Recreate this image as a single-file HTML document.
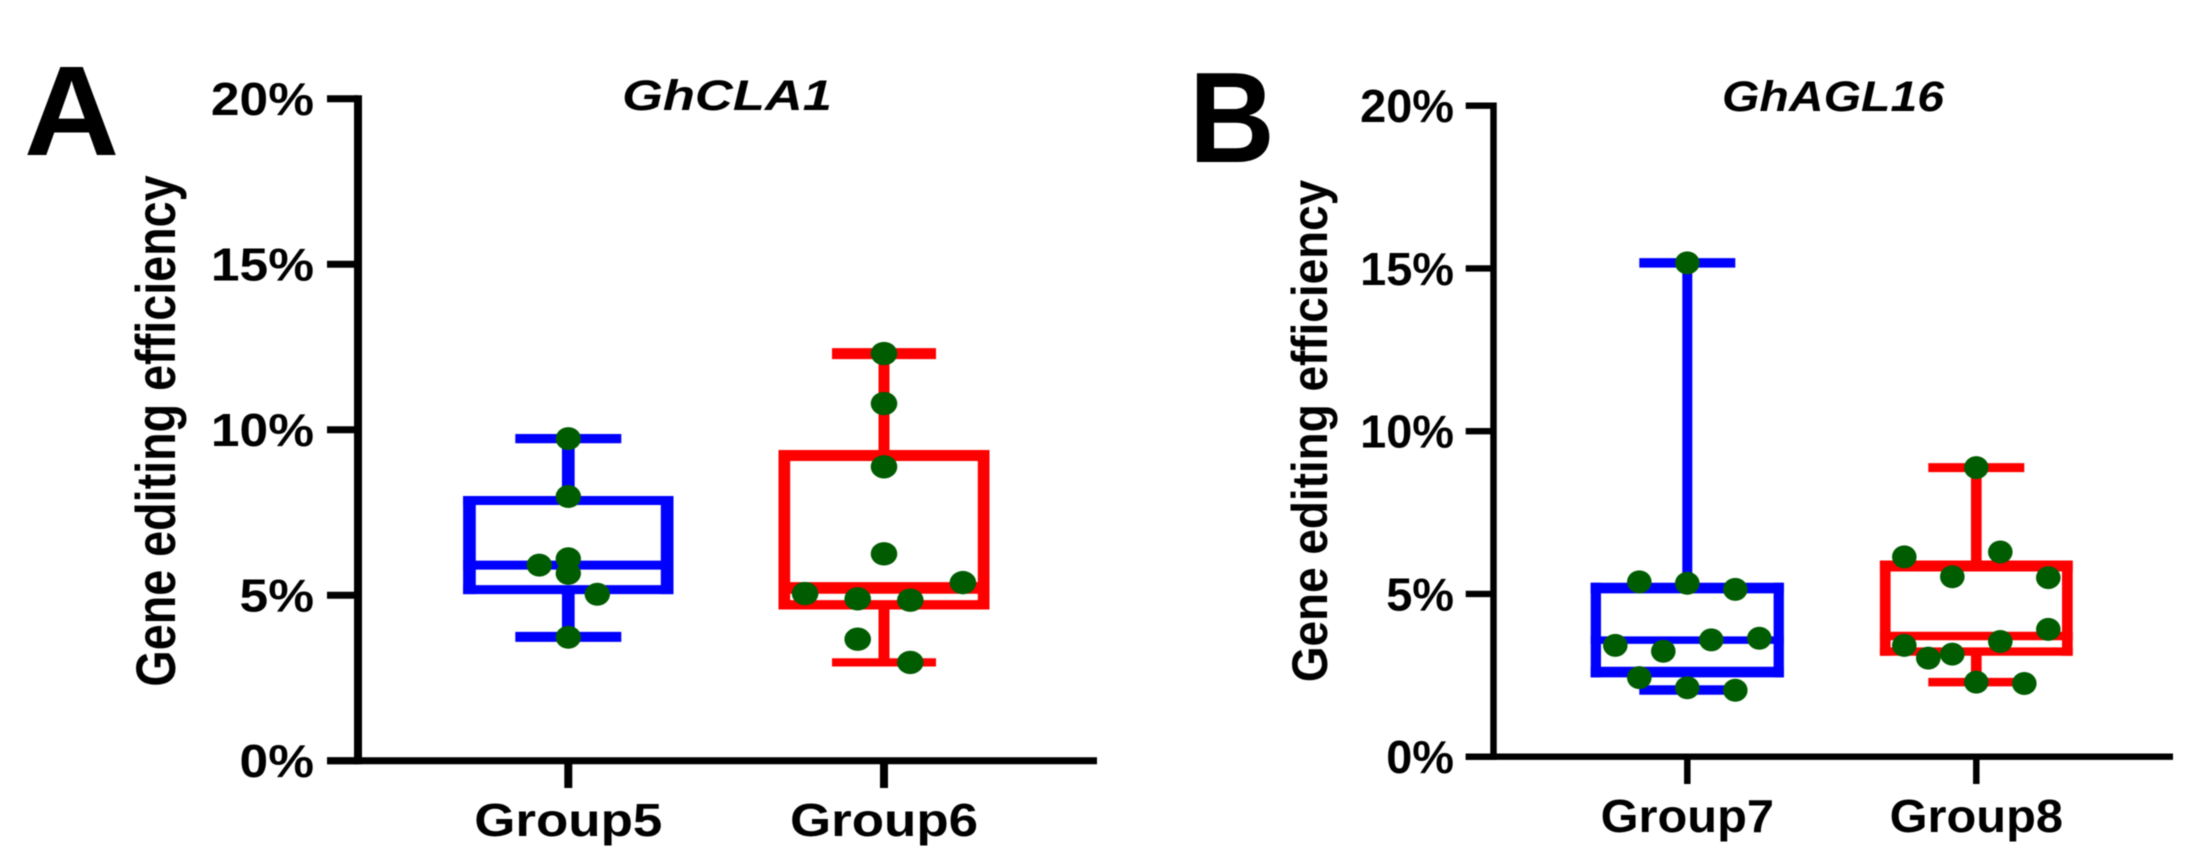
<!DOCTYPE html>
<html lang="en">
<head>
<meta charset="utf-8">
<title>Gene editing efficiency box plots</title>
<style>
html,body{margin:0;padding:0;background:#fff;}
#chart{display:block;width:2191px;height:864px;filter:blur(0.6px);}
text{font-family:"Liberation Sans",Arial,sans-serif;font-weight:700;fill:#000;}
</style>
</head>
<body>
<svg id="chart" xmlns="http://www.w3.org/2000/svg" width="2191" height="864" viewBox="0 0 2191 864"></svg>
<script>
// ---- chart data ----
const yTickValues = [0, 5, 10, 15, 20];
const yTickLabels = ['0%', '5%', '10%', '15%', '20%'];
const panelACategories = ['Group5', 'Group6'];
const panelBCategories = ['Group7', 'Group8'];

// box summaries: [low whisker, Q1, median, Q3, high whisker]
const group5Box = [3.74, 5.17, 5.91, 7.86, 9.73];
const group6Box = [2.97, 4.71, 5.22, 9.22, 12.30];
const group7Box = [2.05, 2.60, 3.58, 5.18, 15.17];
const group8Box = [2.29, 3.23, 3.71, 5.86, 8.88];

// individual points and their swarm slots
const group5Dots = [9.73, 7.98, 6.10, 5.66, 5.91, 5.03, 3.73];
const group5Slots = [0, 0, 0, 0, -1, 1, 0];
const group6Dots = [12.30, 10.79, 8.88, 6.25, 5.05, 4.89, 4.85, 5.38, 3.67, 2.97];
const group6Slots = [0, 0, 0, 0, -3, -1, 1, 3, -1, 1];
const group7Dots = [15.17, 5.37, 5.33, 5.14, 3.42, 3.24, 3.59, 3.64, 2.43, 2.12, 2.04];
const group7Slots = [0, -2, 0, 2, -3, -1, 1, 3, -2, 0, 2];
const group8Dots = [8.88, 6.14, 6.29, 5.53, 5.50, 3.91, 3.42, 3.54, 3.03, 3.15, 2.29, 2.25];
const group8Slots = [0, -3, 1, -1, 3, 3, -3, 1, -2, -1, 0, 2];

const NS = 'http://www.w3.org/2000/svg';
const svg = document.getElementById('chart');

function make(parent, tag) {
  const el = document.createElementNS(NS, tag);
  parent.appendChild(el);
  return el;
}
function setLine(el, x1, y1, x2, y2, color, width) {
  el.setAttribute('x1', x1);
  el.setAttribute('y1', y1);
  el.setAttribute('x2', x2);
  el.setAttribute('y2', y2);
  el.setAttribute('stroke', color);
  el.setAttribute('stroke-width', width);
}
function setText(el, str, transform, size, anchor, italic) {
  el.textContent = str;
  el.setAttribute('transform', transform);
  el.setAttribute('font-size', size);
  el.setAttribute('text-anchor', anchor);
  if (italic) el.setAttribute('font-style', 'italic');
}

function drawPanel(p, categories, boxes, dots, slots, styles) {
  const yScale = function (v) { return p.y0 - v * p.yUnit; };
  const xScale = function (i) { return p.x0 + i * p.band; };

  const panel = make(svg, 'g');
  
  

  const letter = make(panel, 'text');
  setText(letter, p.letter, 'translate(' + p.letterX + ',' + p.letterY + ') scale(' + p.letterSx + ',1)', p.letterSize, 'start', false);
  
  

  const title = make(panel, 'text');
  setText(title, p.title, 'translate(' + p.titleX + ',' + p.titleY + ') scale(' + p.titleSx + ',1)', 43, 'middle', true);
  
  

  const yTitle = make(panel, 'text');
  setText(yTitle, 'Gene editing efficiency', 'translate(' + p.yTitleX + ',' + p.yTitleY + ') scale(' + p.yTitleSx + ',1) rotate(-90)', p.yTitleSize, 'middle', false);
  
  

  const yAxis = make(panel, 'line');
  setLine(yAxis, p.axisX, yScale(yTickValues[yTickValues.length - 1]) - p.axisH / 2, p.axisX, p.y0 + p.axisH / 2, '#000', p.axisV);
  
  

  const xAxis = make(panel, 'line');
  setLine(xAxis, p.tickLeft, p.y0, p.axisEnd, p.y0, '#000', p.axisH);
  
  

  yTickValues.forEach(function (v, i) {
    const tick = make(panel, 'line');
    setLine(tick, p.tickLeft, yScale(v), p.axisX, yScale(v), '#000', p.axisH);
    
    

    const label = make(panel, 'text');
    setText(label, yTickLabels[i], 'translate(' + p.labelRight + ',' + (yScale(v) + 16.5) + ') scale(' + p.labelSx + ',1)', 46, 'end', false);
    
    
  });

  categories.forEach(function (name, i) {
    const cx = xScale(i);
    const s = styles[i];
    const box = boxes[i];

    const tick = make(panel, 'line');
    setLine(tick, cx, p.y0, cx, p.tickBottom, '#000', p.xTickW);
    
    

    const label = make(panel, 'text');
    setText(label, name, 'translate(' + cx + ',' + p.groupY + ') scale(' + p.groupSx + ',1)', 46, 'middle', false);
    
    

    const group = make(panel, 'g');
    
    

    const upperStem = make(group, 'line');
    setLine(upperStem, cx, yScale(box[4]), cx, yScale(box[3]), s.color, s.stem);
    
    

    const lowerStem = make(group, 'line');
    setLine(lowerStem, cx, yScale(box[1]), cx, yScale(box[0]), s.color, s.stem);
    
    

    const upperCap = make(group, 'line');
    setLine(upperCap, cx - s.capHalf, yScale(box[4]), cx + s.capHalf, yScale(box[4]), s.color, s.capTop);
    
    

    const lowerCap = make(group, 'line');
    setLine(lowerCap, cx - s.capHalf, yScale(box[0]), cx + s.capHalf, yScale(box[0]), s.color, s.capBottom);
    
    

    const boxTopY = yScale(box[3]);
    const boxBottomY = yScale(box[1]);

    const boxTop = make(group, 'line');
    setLine(boxTop, cx - s.half, boxTopY, cx + s.half, boxTopY, s.color, s.boxTopW);
    
    

    const boxBottom = make(group, 'line');
    setLine(boxBottom, cx - s.half, boxBottomY, cx + s.half, boxBottomY, s.color, s.boxBottomW);
    
    

    const boxLeft = make(group, 'line');
    setLine(boxLeft, cx - s.half + s.side / 2, boxTopY - s.boxTopW / 2, cx - s.half + s.side / 2, boxBottomY + s.boxBottomW / 2, s.color, s.side);
    
    

    const boxRight = make(group, 'line');
    setLine(boxRight, cx + s.half - s.side / 2, boxTopY - s.boxTopW / 2, cx + s.half - s.side / 2, boxBottomY + s.boxBottomW / 2, s.color, s.side);
    
    

    const median = make(group, 'line');
    setLine(median, cx - s.half, yScale(box[2]), cx + s.half, yScale(box[2]), s.color, s.medianW);
    
    

    dots[i].forEach(function (v, j) {
      const dot = make(group, 'ellipse');
      dot.setAttribute('cx', cx + slots[i][j] * s.step);
      dot.setAttribute('cy', yScale(v));
      dot.setAttribute('rx', s.rx);
      dot.setAttribute('ry', s.ry);
      dot.setAttribute('fill', '#005c00');
      
      
    });
  });
}

drawPanel({
  name: 'panel-a', letter: 'A', letterX: 24, letterY: 155, letterSize: 128, letterSx: 1.03,
  title: 'GhCLA1', titleX: 727, titleY: 110, titleSx: 1.22,
  yTitleX: 175, yTitleY: 431, yTitleSx: 1.2, yTitleSize: 46.7,
  x0: 568.3, band: 315.7, y0: 760.7, yUnit: 33.1,
  axisX: 358, axisV: 8, axisH: 7, tickLeft: 327, axisEnd: 1097,
  labelRight: 314, labelSx: 1.12, tickBottom: 788, xTickW: 8, groupY: 836, groupSx: 1.15
}, panelACategories, [group5Box, group6Box], [group5Dots, group6Dots], [group5Slots, group6Slots], [
  { color: '#0000ff', half: 105.2, side: 12.7, boxTopW: 9, boxBottomW: 9, stem: 12.7, capHalf: 53, capTop: 9.3, capBottom: 10, medianW: 9, step: 29, rx: 12.7, ry: 11.5 },
  { color: '#ff0000', half: 105.5, side: 11.7, boxTopW: 11, boxBottomW: 9.3, stem: 11, capHalf: 52, capTop: 11, capBottom: 8.3, medianW: 11.7, step: 26.3, rx: 13.3, ry: 11.7 }
]);

drawPanel({
  name: 'panel-b', letter: 'B', letterX: 1189, letterY: 162, letterSize: 129, letterSx: 0.92,
  title: 'GhAGL16', titleX: 1833, titleY: 111, titleSx: 1.12,
  yTitleX: 1327, yTitleY: 431, yTitleSx: 1.1, yTitleSize: 45.9,
  x0: 1687.3, band: 289, y0: 756.7, yUnit: 32.55,
  axisX: 1493.5, axisV: 6.5, axisH: 6.3, tickLeft: 1465.7, axisEnd: 2173,
  labelRight: 1454, labelSx: 1.02, tickBottom: 784, xTickW: 6.5, groupY: 832, groupSx: 1.06
}, panelBCategories, [group7Box, group8Box], [group7Dots, group8Dots], [group7Slots, group8Slots], [
  { color: '#0000ff', half: 96.6, side: 10.3, boxTopW: 10.6, boxBottomW: 10.6, stem: 10, capHalf: 48, capTop: 9.5, capBottom: 9.5, medianW: 7.5, step: 24, rx: 12.3, ry: 11.5 },
  { color: '#ff0000', half: 96.4, side: 10.7, boxTopW: 11, boxBottomW: 8.4, stem: 10.7, capHalf: 48, capTop: 9, capBottom: 8.5, medianW: 8.5, step: 24, rx: 12.3, ry: 11.5 }
]);
</script>
</body>
</html>
